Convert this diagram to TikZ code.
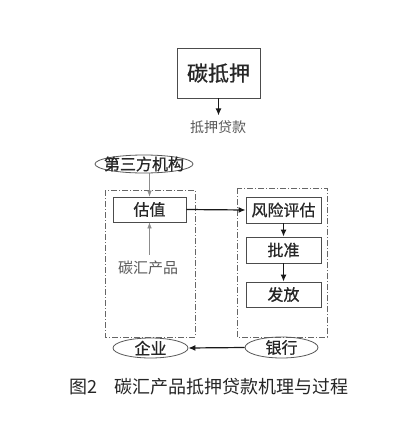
\documentclass[tikz,border=0pt]{standalone}
\usepackage{fontspec}
\newfontfamily\cjk{Noto Sans CJK SC}
\newfontfamily\cjkm[FakeBold=0.8]{Noto Sans CJK SC}
\usetikzlibrary{shapes.geometric,arrows.meta}
\begin{document}
\begin{tikzpicture}[x=1pt,y=-1pt, font=\cjk,
 bx/.style={draw=black!70, line width=0.9pt, inner sep=0pt, rectangle, font=\cjkm\fontsize{16}{16}\selectfont, text=black!85},
 ov/.style={draw=black!65, line width=0.8pt, ellipse, inner sep=0pt},
 ovt/.style={font=\cjkm\fontsize{16}{16}\selectfont, text=black!85, inner sep=0pt},
 grp/.style={draw=black!60, line width=0.8pt, dash pattern=on 6pt off 2pt on 1pt off 2pt},
 arr/.style={-{Latex[length=7pt,width=6pt]}, line width=1.2pt, draw=black!90},
 thinarr/.style={-{Latex[length=6pt,width=4.5pt]}, draw=black!45, line width=0.5pt},
 lbl/.style={text=black!65, font=\cjk\fontsize{14}{14}\selectfont, inner sep=0pt}]
\useasboundingbox (0,0) rectangle (413,434);
\fill[white] (0,0) rectangle (413,434);

% top box
\node[bx, minimum width=83pt, minimum height=50pt, font=\cjkm\fontsize{21}{21}\selectfont] (top) at (218.5,73) {碳抵押};
\node[lbl] (loan) at (218,127) {抵押贷款};
\draw[arr] (top.south) -- ++(0,17);

% group boxes
\draw[grp] (105,190) rectangle (195,337);
\draw[grp] (237,188) rectangle (327,337);

% third party
\node[ov, minimum width=98pt, minimum height=18pt] (tp) at (144,164) {};
\node[ovt] (tpt) at (tp) {第三方机构};

% left side
\node[bx, minimum width=73pt, minimum height=25pt] (gz) at (149.5,209.5) {估值};
\node[lbl, font=\cjk\fontsize{15}{15}\selectfont] (prod) at (148,268) {碳汇产品};
\draw[thinarr] (gz.north |- tp.south) -- (gz.north);
\draw[thinarr] (prod.north -| gz.south) ++(0,-6) -- (gz.south);

% right side
\node[bx, minimum width=75pt, minimum height=26pt] (fx) at (283.5,210) {风险评估};
\node[bx, minimum width=75pt, minimum height=26pt] (pz) at (283.5,250) {批准};
\node[bx, minimum width=75pt, minimum height=25pt] (ff) at (283.5,294.5) {发放};
\draw[arr] (fx) -- (pz);
\draw[arr] (pz) -- (ff);

% bottom ellipses
\node[ov, minimum width=75pt, minimum height=20pt] (qy) at (150.5,348) {};
\node[ovt] (qyt) at (qy) {企业};
\node[ov, minimum width=73pt, minimum height=21pt] (yh) at (281.5,347.5) {};
\node[ovt] (yht) at (yh) {银行};

\draw[arr] (gz.east) -- (fx.west);
\draw[arr] (yh.west) -- (qy.east);

% caption
\node[font=\cjk\fontsize{18}{18}\selectfont, text=black!85] (cap) at (209,387) {图2\quad 碳汇产品抵押贷款机理与过程};
\end{tikzpicture}
\end{document}
